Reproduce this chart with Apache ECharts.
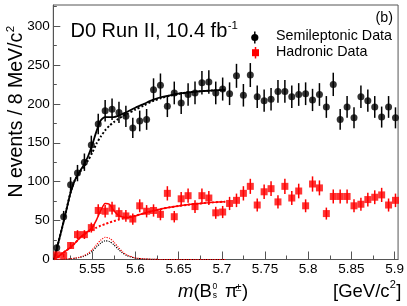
<!DOCTYPE html>
<html><head><meta charset="utf-8">
<script src="https://cdn.jsdelivr.net/npm/echarts@6/dist/echarts.min.js"></script>
<style>html,body{margin:0;padding:0;background:#fff}#c{width:407px;height:306px}</style>
</head><body><div id="c"></div>
<script>
// ---- data ----
const binCenters = [5.509,5.517,5.525,5.533,5.541,5.549,5.557,5.565,5.573,5.581,5.589,5.597,5.605,5.613,5.621,5.629,5.637,5.645,5.653,5.661,5.669,5.677,5.685,5.693,5.701,5.709,5.717,5.725,5.733,5.741,5.749,5.757,5.765,5.773,5.781,5.789,5.797,5.805,5.813,5.821,5.829,5.837,5.845,5.853,5.861,5.869,5.877,5.885,5.893,5.901];
const semiCounts = [15,55,96,111,125,147,174,191,193,189,184,169,178,180,218,224,197,214,201,212,214,227,228,214,219,213,236,211,237,209,204,206,216,216,209,212,213,205,212,196,225,180,196,182,209,204,196,183,196,182];
const semiErrors = [3.9,7.4,9.8,10.5,11.2,12.1,13.2,13.8,13.9,13.7,13.6,13,13.3,13.4,14.8,15,14,14.6,14.2,14.6,14.6,15.1,15.1,14.6,14.8,14.6,15.4,14.5,15.4,14.5,14.3,14.4,14.7,14.7,14.5,14.6,14.6,14.3,14.6,14,15,13.4,14,13.5,14.5,14.3,14,13.5,14,13.5];
const hadCounts = [6,5,18,32,32,41,63,62,66,59,56,52,69,62,63,58,85,55,78,82,68,82,79,60,61,72,76,85,94,70,87,91,74,94,79,88,69,97,92,59,81,81,81,69,71,77,80,83,70,76];
const hadErrors = [2.4,2.2,4.2,5.7,5.7,6.4,7.9,7.9,8.1,7.7,7.5,7.2,8.3,7.9,7.9,7.6,9.2,7.4,8.8,9.1,8.2,9.1,8.9,7.7,7.8,8.5,8.7,9.2,9.7,8.4,9.3,9.5,8.6,9.7,8.9,9.4,8.3,9.8,9.6,7.7,9,9,9,8.3,8.4,8.8,8.9,9.1,8.4,8.7];

const fitMass      = [5.506,5.51,5.515,5.52,5.525,5.53,5.535,5.54,5.545,5.55,5.555,5.56,5.565,5.57,5.575,5.58,5.585,5.59,5.6,5.61,5.62,5.63,5.64,5.65,5.66,5.67,5.68,5.69,5.704];
const semiFitTotal = [0,18,40,63,86,102,112,121,132,147,165,179,183,183,183,184.5,187,189.5,195,200,205,208.5,211,213,214.5,215.7,216.5,217.3,218];
const semiFitBkg   = [0,18,40,63,86,102,111,119,127,137,149,158,166,172,176.5,180.5,184,187,192.5,198,203.5,207.5,210.5,212.8,214.5,215.7,216.5,217.3,218];
const semiFitSig   = [0,0,0,0.5,0.9,1.5,2.5,4,6.5,10.5,16,21,24,23,19,13.5,8.5,5,1.8,0.7,0.3,0,0,0,0,0,0,0,0];
const hadFitTotal  = [0,3,7.5,11.5,15.5,21,27,32,36,41,51,63,72,71,63,57,54.5,54,56,59.5,62.5,65,67,68.8,70.3,71.5,72.5,73.4,74.3];
const hadFitBkg    = [0,3,7.5,11.5,15.5,21,27,31.5,35.5,38.5,41,43.5,45.5,47.5,49.3,51,52.5,54,56.3,59.3,62.2,65,67,68.8,70.3,71.5,72.5,73.4,74.3];
const hadFitSig    = [0,0,0,0.6,1.1,1.8,3,4.8,7.7,12.5,19,25,28.5,27.4,22.6,16,10,6,2.1,0.8,0.3,0,0,0,0,0,0,0,0];

const xTickValues = [5.55,5.6,5.65,5.7,5.75,5.8,5.85,5.9];
const xMinorTicks = [5.525,5.575,5.625,5.675,5.725,5.775,5.825,5.875];
const yTickValues = [0,50,100,150,200,250,300];
const yMinorTicks = [25,75,125,175,225,275,325];

// ---- chart ----
const FF = 'Liberation Sans';
const ctx2 = document.createElement('canvas').getContext('2d');
function tw(t, size, style){ ctx2.font = (style ? style + ' ' : '') + size + 'px "' + FF + '"'; return ctx2.measureText(t).width; }

const pairs = (xs, ys) => xs.map((x, i) => [x, ys[i]]);
const triples = (xs, ys, es) => xs.map((x, i) => [x, ys[i], es[i]]);

function errBar(color){
  return function(params, api){
    const x = api.value(0), y = api.value(1), e = api.value(2);
    const p1 = api.coord([x, y - e]), p2 = api.coord([x, y + e]);
    return {type:'line', shape:{x1:p1[0], y1:p1[1], x2:p2[0], y2:p2[1]}, style:{stroke:color, lineWidth:1.5}};
  };
}
function fitLine(name, ys, color, width, type, z){
  return {name, type:'line', data:pairs(fitMass, ys), showSymbol:false, smooth:0.25,
    lineStyle:{color, width, type}, z, silent:true};
}

const chart = echarts.init(document.getElementById('c'), null, {renderer:'canvas'});
const axisCol = '#555';
function txt(x, y, text, size, extra){
  return Object.assign({type:'text', x, y, style:Object.assign({text, fill:'#000', fontSize:size, fontFamily:FF, align:'left', verticalAlign:'middle'}, extra||{})});
}
function styled(t, extra){ t.style = Object.assign(t.style, extra); return t; }

const titleW = tw('D0 Run II, 10.4 fb', 20);
const yTitleW = tw('N events / 8 MeV/c', 19.5);
const mW = tw('m', 18.5, 'italic');
const bW = tw('(B', 18.5);
const gevW = tw('[GeV/c', 18.5);

const graphics = [
  txt(70.5, 31.7, 'D0 Run II, 10.4 fb', 20),
  txt(70.5 + titleW + 0.5, 25.5, '-1', 11.5),
  txt(393, 18.5, '(b)', 14.3, {align:'right'}),
  // legend
  {type:'line', shape:{x1:254.8, y1:31.5, x2:254.8, y2:43.5}, style:{stroke:'#000', lineWidth:1.5}},
  {type:'circle', shape:{cx:254.8, cy:37.5, r:3.6}, style:{fill:'#000'}},
  txt(276, 36, 'Semileptonic Data', 14.3),
  {type:'line', shape:{x1:255.5, y1:47, x2:255.5, y2:58.5}, style:{stroke:'#ff0000', lineWidth:1.5}},
  {type:'rect', shape:{x:252, y:49.2, width:7, height:7}, style:{fill:'#ff0000'}},
  txt(276, 52, 'Hadronic Data', 14.3),
  // x title
  txt(178, 291.5, 'm', 18.5, {fontStyle:'italic'}),
  txt(178 + mW, 291.5, '(B', 18.5),
  txt(178 + mW + bW + 0.5, 286.5, '0', 8.5),
  txt(178 + mW + bW + 0.8, 296, 's', 8.5),
  txt(225, 291.5, 'π', 18.5),
  txt(235.5, 288, '±', 11),
  txt(242, 291.5, ')', 18.5),
  txt(333, 291.5, '[GeV/c', 18.5),
  txt(333 + gevW + 0.3, 285, '2', 11),
  txt(333 + gevW + 6.6, 291.5, ']', 18.5),
  // y title (rotated)
  {type:'group', x:16.7, y:197.5, rotation:Math.PI/2, children:[
    txt(0, 0, 'N events / 8 MeV/c', 19.5),
    txt(yTitleW + 0.5, -6, '2', 11.5)
  ]}
];

const option = {
  animation:false,
  backgroundColor:'#fff',
  grid:{left:53.3, right:6.3, top:5, bottom:46.5, show:true, borderColor:axisCol, borderWidth:1, backgroundColor:'transparent'},
  xAxis:[
    {type:'value', min:5.505, max:5.904, position:'bottom',
     axisLine:{show:true, onZero:false, lineStyle:{color:axisCol, width:1}},
     axisTick:{show:true, inside:true, length:8, customValues:xTickValues, lineStyle:{color:axisCol}},
     axisLabel:{show:true, customValues:xTickValues, margin:3, color:'#000', fontSize:13.5, fontFamily:FF,
       formatter:v => String(parseFloat(Number(v).toFixed(3)))},
     splitLine:{show:false}},
    {type:'value', min:5.505, max:5.904, position:'bottom',
     axisLine:{show:false, onZero:false},
     axisTick:{show:true, inside:true, length:4, customValues:xMinorTicks, lineStyle:{color:axisCol}},
     axisLabel:{show:false}, splitLine:{show:false}}
  ],
  yAxis:[
    {type:'value', min:0, max:327, position:'left',
     axisLine:{show:true, onZero:false, lineStyle:{color:axisCol, width:1}},
     axisTick:{show:true, inside:true, length:7, customValues:yTickValues, lineStyle:{color:axisCol}},
     axisLabel:{show:true, customValues:yTickValues, margin:3.5, color:'#000', fontSize:13.5, fontFamily:FF},
     splitLine:{show:false}},
    {type:'value', min:0, max:327, position:'left',
     axisLine:{show:false, onZero:false},
     axisTick:{show:true, inside:true, length:3.5, customValues:yMinorTicks, lineStyle:{color:axisCol}},
     axisLabel:{show:false}, splitLine:{show:false}}
  ],
  graphic:graphics,
  series:[
    fitLine('Semi bkg', semiFitBkg, '#000', 2, [2,2], 2),
    fitLine('Semi total', semiFitTotal, '#000', 1.8, 'solid', 3),
    fitLine('Semi signal', semiFitSig, '#000', 1.1, [1.2,1.2], 2),
    fitLine('Had bkg', hadFitBkg, '#ff0000', 2, [2,2], 2),
    fitLine('Had total', hadFitTotal, '#ff0000', 1.5, 'solid', 3),
    fitLine('Had signal', hadFitSig, '#ff0000', 1.1, [1.2,1.2], 2),
    {name:'Semileptonic err', type:'custom', data:triples(binCenters, semiCounts, semiErrors), encode:{x:0, y:1}, renderItem:errBar('#000'), z:4, silent:true},
    {name:'Semileptonic Data', type:'scatter', data:pairs(binCenters, semiCounts), symbol:'circle', symbolSize:7, itemStyle:{color:'#000'}, z:5, silent:true},
    {name:'Hadronic err', type:'custom', data:triples(binCenters, hadCounts, hadErrors), encode:{x:0, y:1}, renderItem:errBar('#ff0000'), z:4, silent:true},
    {name:'Hadronic Data', type:'scatter', data:pairs(binCenters, hadCounts), symbol:'rect', symbolSize:7, itemStyle:{color:'#ff0000'}, z:5, silent:true}
  ]
};
chart.setOption(option);
</script></body></html>
